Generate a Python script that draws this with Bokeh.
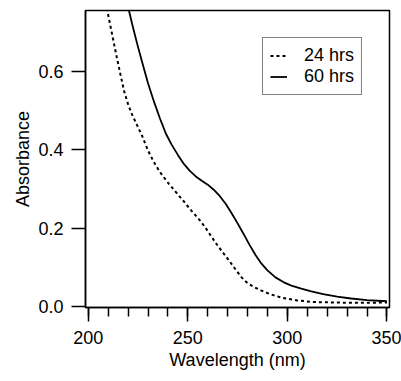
from bokeh.plotting import figure
from bokeh.models import FixedTicker, PrintfTickFormatter, Range1d, Legend, LegendItem
from bokeh.embed import file_html
from bokeh.resources import INLINE

# 24 hrs (dashed)
wl_24 = [209.3, 212, 214, 216, 218, 220, 222, 224.5, 227, 230, 233, 236, 240, 244, 248, 252,
         256, 259, 262, 265, 268, 271, 274, 277, 280, 283, 287, 292, 298, 305, 313, 322,
         332, 342, 350]
abs_24 = [0.762, 0.694, 0.644, 0.596, 0.550, 0.516, 0.490, 0.463, 0.436, 0.398, 0.368, 0.343,
          0.316, 0.292, 0.268, 0.243, 0.220, 0.200, 0.177, 0.155, 0.135, 0.115, 0.094, 0.074,
          0.059, 0.050, 0.040, 0.030, 0.021, 0.015, 0.011, 0.010, 0.009, 0.009, 0.010]

# 60 hrs (solid)
wl_60 = [220, 222, 224.5, 227, 230, 233, 236, 239, 242, 245, 248, 251, 254, 257, 260, 263,
         266, 269, 272, 275, 278, 281, 284, 287, 290, 294, 298, 302, 307, 312, 318, 325,
         332, 340, 350]
abs_60 = [0.765, 0.722, 0.672, 0.625, 0.570, 0.523, 0.480, 0.441, 0.412, 0.387, 0.364, 0.346,
          0.332, 0.321, 0.311, 0.298, 0.282, 0.262, 0.238, 0.212, 0.185, 0.157, 0.131, 0.109,
          0.092, 0.074, 0.062, 0.053, 0.045, 0.038, 0.031, 0.025, 0.020, 0.016, 0.013]

x_ticks = [200, 250, 300, 350]
x_minor = list(range(200, 351, 10))
y_ticks = [0.0, 0.2, 0.4, 0.6]
labels = ["24 hrs", "60 hrs"]

FONT = "Liberation Sans"

p = figure(width=401, height=381, output_backend="svg", toolbar_location=None,
           x_range=Range1d(198.6, 351.3), y_range=Range1d(-0.003, 0.756),
           min_border_left=85, min_border_right=12, min_border_top=10, min_border_bottom=74)
p.background_fill_color = "white"
p.border_fill_color = "white"
p.outline_line_color = "black"
p.outline_line_width = 1.5
p.grid.visible = False

r24 = p.line(wl_24, abs_24, line_color="black", line_width=2, line_dash="3 3")
r60 = p.line(wl_60, abs_60, line_color="black", line_width=1.8)

legend = Legend(items=[LegendItem(label=labels[0], renderers=[r24]),
                       LegendItem(label=labels[1], renderers=[r60])],
                location="top_right", margin=27, padding=7, spacing=0,
                glyph_width=17, glyph_height=21, label_height=21, label_standoff=17,
                label_text_font=FONT, label_text_font_size="18px", label_text_color="black",
                border_line_color="black", border_line_width=1.5,
                background_fill_color="white", background_fill_alpha=1)
p.add_layout(legend, "center")

xa = p.xaxis[0]
xa.ticker = FixedTicker(ticks=x_ticks, minor_ticks=x_minor)
xa.axis_label = "Wavelength (nm)"
ya = p.yaxis[0]
ya.ticker = FixedTicker(ticks=y_ticks, minor_ticks=[])
ya.formatter = PrintfTickFormatter(format="%.1f")
ya.axis_label = "Absorbance"

for ax in (xa, ya):
    ax.axis_line_width = 1.5
    ax.axis_line_color = "black"
    ax.major_tick_line_width = 1.5
    ax.minor_tick_line_width = 1.5
    ax.major_tick_line_color = "black"
    ax.minor_tick_line_color = "black"
    ax.major_tick_in = 0
    ax.minor_tick_in = 0
    ax.major_tick_out = 14
    ax.major_label_text_font = FONT
    ax.major_label_text_font_size = "18px"
    ax.major_label_text_color = "black"
    ax.axis_label_text_font = FONT
    ax.axis_label_text_font_size = "18px"
    ax.axis_label_text_font_style = "normal"
    ax.axis_label_text_color = "black"

xa.minor_tick_out = 9
xa.major_label_standoff = 9
xa.axis_label_standoff = 3
ya.minor_tick_out = 0
ya.major_label_standoff = 8
ya.axis_label_standoff = 2

open("out.html", "w").write(file_html(p, INLINE))
